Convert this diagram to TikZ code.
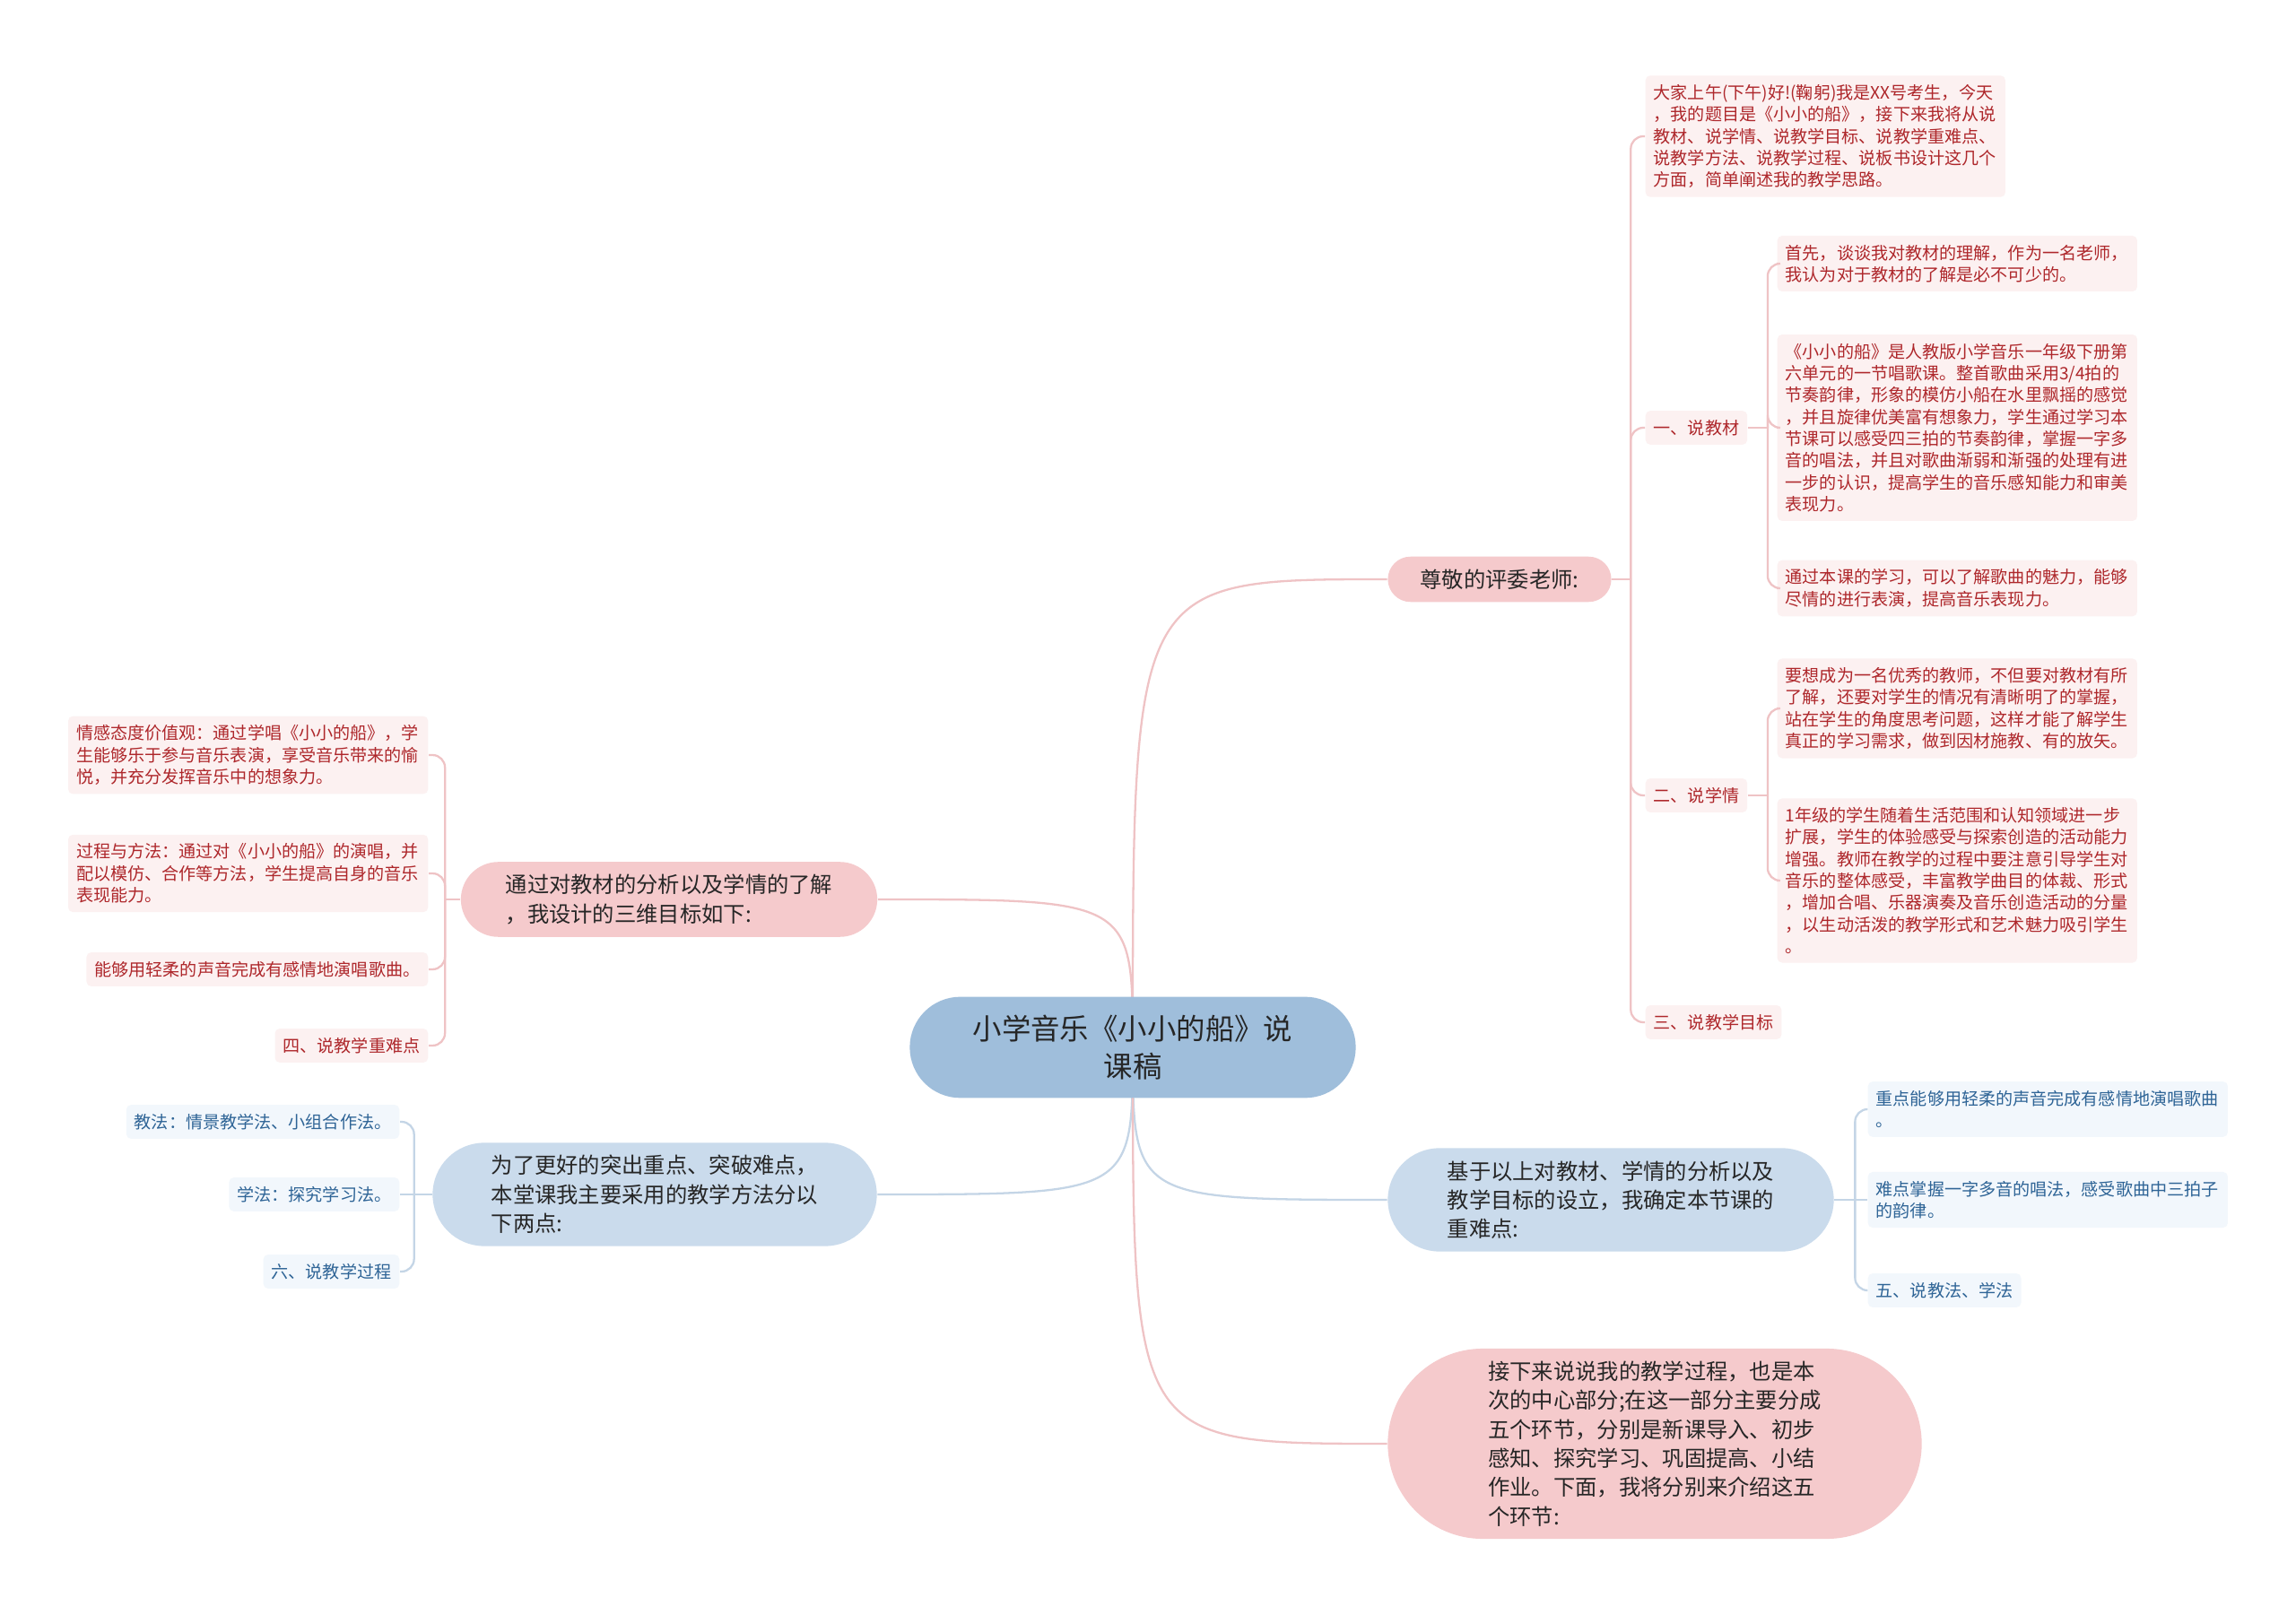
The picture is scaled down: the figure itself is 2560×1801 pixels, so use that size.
\documentclass[tikz,border=0pt]{standalone}
\usepackage{fontspec}
\newfontfamily\cjk{Noto Sans CJK SC}
\usetikzlibrary{calc, shapes.misc, backgrounds}

\definecolor{rootblue}{HTML}{9FBEDB}
\definecolor{pinkbranch}{HTML}{F5CACC}
\definecolor{bluebranch}{HTML}{CADBEC}
\definecolor{pinkleaffill}{HTML}{FCF1F1}
\definecolor{blueleaffill}{HTML}{F2F7FC}
\definecolor{pinktext}{HTML}{AE272B}
\definecolor{bluetext}{HTML}{2E6496}
\definecolor{pinkedge}{HTML}{EFC3C5}
\definecolor{blueedge}{HTML}{C4D5E6}
\definecolor{darktext}{HTML}{262626}

\begin{document}
\begin{tikzpicture}[
  x=0.01cm, y=-0.01cm,
  root/.style={rounded rectangle, fill=rootblue, text=darktext, align=center, inner xsep=0.12cm, inner ysep=0.2cm, font=\cjk\fontsize{9.22}{12.09}\selectfont},
  branch/.style={rounded rectangle, text=darktext, align=left, inner xsep=0.08cm, inner ysep=0.14cm, font=\cjk\fontsize{6.91}{9.19}\selectfont},
  pinkbox/.style={branch, fill=pinkbranch},
  bluebox/.style={branch, fill=bluebranch},
  leaf/.style={rectangle, rounded corners=1.5pt, align=left, inner xsep=0.09cm, inner ysep=0.1cm, font=\cjk\fontsize{5.43}{6.91}\selectfont},
  pinkleaf/.style={leaf, fill=pinkleaffill, text=pinktext},
  blueleaf/.style={leaf, fill=blueleaffill, text=bluetext},
  wideleaf/.style={text width=3.83cm},
  pinkline/.style={draw=pinkedge, line width=0.65pt, rounded corners=0.14cm},
  blueline/.style={draw=blueedge, line width=0.65pt, rounded corners=0.14cm}
]
\useasboundingbox (0,0) rectangle (2560,1801);

%------------------------------------------------
% Root and main branches
%------------------------------------------------
\node[root, minimum width=5.21cm] (root) at (1263,1168) {小学音乐《小小的船》说\\课稿};

\node[pinkbox, minimum width=2.65cm] (greet) at (1672,646) {尊敬的评委老师:};
\node[pinkbox, minimum width=4.8cm] (goals) at (746,1003) {通过对教材的分析以及学情的了解\\，我设计的三维目标如下:};
\node[bluebox, minimum width=5.11cm] (methods) at (730,1332) {为了更好的突出重点、突破难点，\\本堂课我主要采用的教学方法分以\\下两点:};
\node[bluebox, minimum width=5.13cm] (keys) at (1796,1338) {基于以上对教材、学情的分析以及\\教学目标的设立，我确定本节课的\\重难点:};
\node[pinkbox, minimum width=6.11cm] (process) at (1845,1610) {接下来说说我的教学过程，也是本\\次的中心部分;在这一部分主要分成\\五个环节，分别是新课导入、初步\\感知、探究学习、巩固提高、小结\\作业。下面，我将分别来介绍这五\\个环节:};

%------------------------------------------------
% Greeting branch
%------------------------------------------------
\node[pinkleaf, wideleaf, anchor=west] (intro) at (1834,152) {大家上午(下午)好!(鞠躬)我是XX号考生，今天\\，我的题目是《小小的船》，接下来我将从说\\教材、说学情、说教学目标、说教学重难点、\\说教学方法、说教学过程、说板书设计这几个\\方面，简单阐述我的教学思路。};
\node[pinkleaf, anchor=west] (material) at (1834,477) {一、说教材};
\node[pinkleaf, anchor=west] (students) at (1834,887) {二、说学情};
\node[pinkleaf, anchor=west] (aims) at (1834,1140) {三、说教学目标};

\node[pinkleaf, wideleaf, anchor=west] (material1) at (1981,294) {首先，谈谈我对教材的理解，作为一名老师，\\我认为对于教材的了解是必不可少的。};
\node[pinkleaf, wideleaf, anchor=west] (material2) at (1981,477) {《小小的船》是人教版小学音乐一年级下册第\\六单元的一节唱歌课。整首歌曲采用3/4拍的\\节奏韵律，形象的模仿小船在水里飘摇的感觉\\，并且旋律优美富有想象力，学生通过学习本\\节课可以感受四三拍的节奏韵律，掌握一字多\\音的唱法，并且对歌曲渐弱和渐强的处理有进\\一步的认识，提高学生的音乐感知能力和审美\\表现力。};
\node[pinkleaf, wideleaf, anchor=west] (material3) at (1981,656) {通过本课的学习，可以了解歌曲的魅力，能够\\尽情的进行表演，提高音乐表现力。};

\node[pinkleaf, wideleaf, anchor=west] (students1) at (1981,790) {要想成为一名优秀的教师，不但要对教材有所\\了解，还要对学生的情况有清晰明了的掌握，\\站在学生的角度思考问题，这样才能了解学生\\真正的学习需求，做到因材施教、有的放矢。};
\node[pinkleaf, wideleaf, anchor=west] (students2) at (1981,982) {1年级的学生随着生活范围和认知领域进一步\\扩展，学生的体验感受与探索创造的活动能力\\增强。教师在教学的过程中要注意引导学生对\\音乐的整体感受，丰富教学曲目的体裁、形式\\，增加合唱、乐器演奏及音乐创造活动的分量\\，以生动活泼的教学形式和艺术魅力吸引学生\\。};

%------------------------------------------------
% Goals branch (left)
%------------------------------------------------
\node[pinkleaf, wideleaf, anchor=east] (goal1) at (478,842) {情感态度价值观：通过学唱《小小的船》，学\\生能够乐于参与音乐表演，享受音乐带来的愉\\悦，并充分发挥音乐中的想象力。};
\node[pinkleaf, wideleaf, anchor=east] (goal2) at (478,974) {过程与方法：通过对《小小的船》的演唱，并\\配以模仿、合作等方法，学生提高自身的音乐\\表现能力。};
\node[pinkleaf, anchor=east] (goal3) at (478,1081) {能够用轻柔的声音完成有感情地演唱歌曲。};
\node[pinkleaf, anchor=east] (focus) at (478,1166) {四、说教学重难点};

%------------------------------------------------
% Methods branch (left)
%------------------------------------------------
\node[blueleaf, anchor=east] (teach) at (446,1251) {教法：情景教学法、小组合作法。};
\node[blueleaf, anchor=east] (learn) at (446,1332) {学法：探究学习法。};
\node[blueleaf, anchor=east] (steps) at (446,1418) {六、说教学过程};

%------------------------------------------------
% Key points branch (right)
%------------------------------------------------
\node[blueleaf, wideleaf, anchor=west] (key1) at (2082,1237) {重点能够用轻柔的声音完成有感情地演唱歌曲\\。};
\node[blueleaf, wideleaf, anchor=west] (key2) at (2082,1338) {难点掌握一字多音的唱法，感受歌曲中三拍子\\的韵律。};
\node[blueleaf, anchor=west] (how) at (2082,1439) {五、说教法、学法};

% Bracket points
\coordinate (greet-t) at ($(greet.east)+(21,0)$);
\coordinate (material-t) at ($(material.east)+(22,0)$);
\coordinate (students-t) at ($(students.east)+(22,0)$);
\coordinate (goals-t) at ($(goals.west)+(-17,0)$);
\coordinate (methods-t) at ($(methods.west)+(-20,0)$);
\coordinate (keys-t) at ($(keys.east)+(23,0)$);

%------------------------------------------------
% Connectors
%------------------------------------------------
\begin{scope}[on background layer]
\fill[white] (0,0) rectangle (2560,1801);

\draw[pinkline] (root.center) .. controls (root.center |- greet.west) .. (greet.west);
\draw[pinkline] (root.center) .. controls (root.center |- goals.east) .. (goals.east);
\draw[blueline] (root.center) .. controls (root.center |- methods.east) .. (methods.east);
\draw[blueline] (root.center) .. controls (root.center |- keys.west) .. (keys.west);
\draw[pinkline] (root.center) .. controls (root.center |- process.west) .. (process.west);
\end{scope}

\draw[pinkline] (greet.east) -- (greet-t);
\draw[pinkline] (greet-t) |- (intro.west);
\draw[pinkline] (greet-t) |- (material.west);
\draw[pinkline] (greet-t) |- (students.west);
\draw[pinkline] (greet-t) |- (aims.west);

\draw[pinkline] (material.east) -- (material-t);
\draw[pinkline] (material-t) |- (material1.west);
\draw[pinkline] (material-t) |- (material2.west);
\draw[pinkline] (material-t) |- (material3.west);

\draw[pinkline] (students.east) -- (students-t);
\draw[pinkline] (students-t) |- (students1.west);
\draw[pinkline] (students-t) |- (students2.west);

\draw[pinkline] (goals.west) -- (goals-t);
\draw[pinkline] (goals-t) |- (goal1.east);
\draw[pinkline] (goals-t) |- (goal2.east);
\draw[pinkline] (goals-t) |- (goal3.east);
\draw[pinkline] (goals-t) |- (focus.east);

\draw[blueline] (methods.west) -- (methods-t);
\draw[blueline] (methods-t) |- (teach.east);
\draw[blueline] (methods-t) -- (learn.east);
\draw[blueline] (methods-t) |- (steps.east);

\draw[blueline] (keys.east) -- (keys-t);
\draw[blueline] (keys-t) |- (key1.west);
\draw[blueline] (keys-t) -- (key2.west);
\draw[blueline] (keys-t) |- (how.west);

\end{tikzpicture}
\end{document}
